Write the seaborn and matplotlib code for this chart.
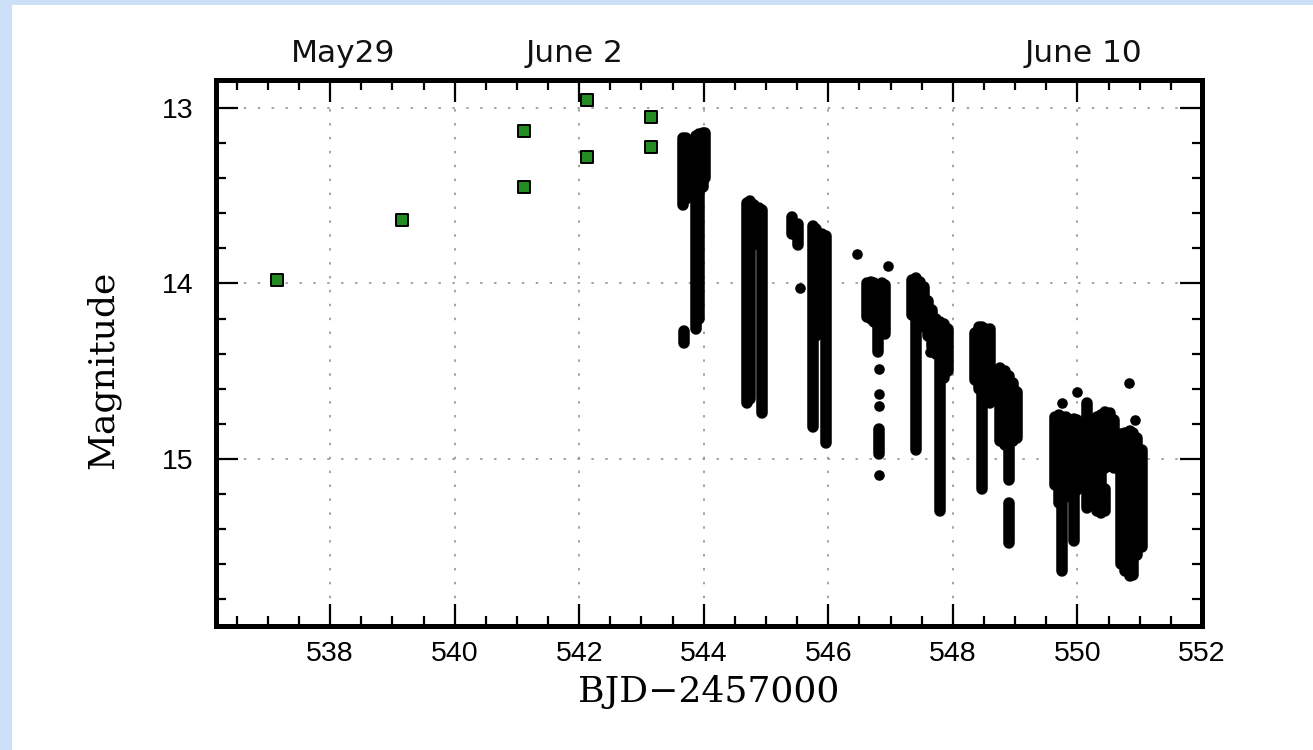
import matplotlib
matplotlib.use("Agg")
import matplotlib.pyplot as plt
import matplotlib.transforms as mtransforms
from matplotlib.patches import Rectangle
from matplotlib.ticker import MultipleLocator
import pandas as pd
import seaborn as sns

# ---- comparison-star style photometry (green squares) ----
early_bjd = [537.15, 539.15, 541.12, 541.12, 542.12, 542.12, 543.15, 543.15]
early_mag = [13.98, 13.638, 13.131, 13.448, 12.954, 13.281, 13.053, 13.22]

# ---- time-resolved photometry: dense nightly runs as (BJD, brightest, faintest) ----
run_bjd = [
    543.66, 543.72, 543.68, 543.88, 543.93, 543.98, 544.02,
    544.69, 544.75, 544.81, 544.88, 544.93,
    545.42, 545.52, 545.75, 545.81, 545.90, 545.96,
    546.62, 546.68, 546.74, 546.80, 546.86, 546.91, 546.81,
    547.35, 547.41, 547.47, 547.53, 547.60, 547.66, 547.73, 547.79, 547.85, 547.92,
    548.36, 548.42, 548.47, 548.53, 548.60, 548.76, 548.83, 548.90, 548.90, 548.97, 549.03,
    549.64, 549.70, 549.75, 549.82, 549.88, 549.94, 550.00, 550.15,
    550.31, 550.38, 550.45, 550.45, 550.52, 550.59, 550.70, 550.77, 550.84, 550.90, 550.96, 551.03,
]
run_top = [
    13.17, 13.17, 14.27, 13.16, 13.15, 13.14, 13.14,
    13.54, 13.53, 13.55, 13.57, 13.58,
    13.62, 13.66, 13.67, 13.69, 13.72, 13.73,
    14.00, 13.99, 14.00, 14.02, 14.00, 14.01, 14.83,
    13.98, 13.97, 13.99, 14.02, 14.10, 14.15, 14.20, 14.22, 14.23, 14.26,
    14.28, 14.25, 14.25, 14.26, 14.26, 14.48, 14.50, 14.53, 15.25, 14.57, 14.62,
    14.76, 14.75, 14.76, 14.76, 14.78, 14.77, 14.78, 14.68,
    14.76, 14.75, 14.73, 15.17, 14.74, 14.78, 14.86, 14.85, 14.84, 14.85, 14.88, 14.95,
]
run_bottom = [
    13.55, 13.52, 14.34, 14.26, 14.20, 13.45, 13.40,
    14.68, 14.66, 13.75, 13.78, 14.74,
    13.72, 13.78, 14.82, 14.30, 14.10, 14.91,
    14.19, 14.20, 14.22, 14.39, 14.27, 14.29, 14.97,
    14.18, 14.95, 14.20, 14.25, 14.30, 14.36, 14.40, 15.30, 14.54, 14.50,
    14.55, 14.60, 15.17, 14.62, 14.68, 14.90, 14.92, 15.12, 15.48, 14.90, 14.88,
    15.15, 15.25, 15.64, 15.22, 15.20, 15.47, 15.18, 15.28,
    15.30, 15.31, 15.05, 15.30, 15.04, 15.05, 15.60, 15.64, 15.67, 15.66, 15.55, 15.50,
]

# ---- isolated single measurements ----
single_bjd = [545.54, 546.46, 546.96, 546.81, 546.81, 546.81, 546.81, 547.63,
              549.75, 549.99, 550.83, 550.92]
single_mag = [14.027, 13.83, 13.90, 14.49, 14.63, 14.70, 15.09, 14.39,
              14.68, 14.62, 14.567, 14.78]

# ---- axis annotation ----
x_ticks = [538, 540, 542, 544, 546, 548, 550, 552]
y_ticks = [13, 14, 15]
date_labels = ["May29", "June 2", "June 10"]
date_pos = [538.21, 541.93, 550.09]

sns.set_theme(style="white")
plt.rcParams.update({
    "font.family": ["Liberation Sans", "DejaVu Sans"],
    "text.color": "black",
    "axes.labelcolor": "black",
    "xtick.color": "black",
    "ytick.color": "black",
    "xtick.bottom": True,
    "xtick.top": True,
    "ytick.left": True,
    "ytick.right": True,
    "xtick.direction": "in",
    "ytick.direction": "in",
    "xtick.major.size": 15.5,
    "ytick.major.size": 15.5,
    "xtick.minor.size": 7,
    "ytick.minor.size": 7,
    "xtick.major.width": 1.6,
    "ytick.major.width": 1.6,
    "xtick.minor.width": 1.6,
    "ytick.minor.width": 1.6,
})

fig = plt.figure(figsize=(13.13, 7.5), dpi=100)
fig.patch.set_facecolor("#cde0f7")
fig.patches.append(Rectangle((12 / 1313, 0), 1 - 12 / 1313, 1 - 5 / 750,
                             transform=fig.transFigure, facecolor="white",
                             edgecolor="none", zorder=-10))

ax = fig.add_axes([0.16413, 0.166, 0.75133, 0.7273])
ax.set_zorder(1)
ax.set_facecolor("white")

# dense nightly runs drawn as stacked dots (round-capped strokes)
ax.vlines(run_bjd, run_top, run_bottom, colors="black", linewidth=8.3,
          capstyle="round", zorder=3)

single_df = pd.DataFrame({"bjd": single_bjd, "mag": single_mag})
sns.scatterplot(data=single_df, x="bjd", y="mag", ax=ax, color="black",
                s=58, linewidth=0, zorder=4, legend=False)

early_df = pd.DataFrame({"bjd": early_bjd, "mag": early_mag})
sns.scatterplot(data=early_df, x="bjd", y="mag", ax=ax, marker="s",
                color="#228b22", edgecolor="black", linewidth=1.4,
                s=82, zorder=5, legend=False)

ax.set_xlim(536.16, 552)
ax.set_ylim(15.95, 12.84)

ax.set_xticks(x_ticks)
ax.set_yticks(y_ticks)
ax.xaxis.set_minor_locator(MultipleLocator(0.5))
ax.yaxis.set_minor_locator(MultipleLocator(0.2))
ax.set_xticklabels([str(t) for t in x_ticks])
ax.set_yticklabels([str(t) for t in y_ticks])

ax.grid(True, which="major", color="#8c8c8c", linewidth=1.1,
        linestyle=(0, (1.6, 7.5)))
ax.set_axisbelow(True)

for sp in ax.spines.values():
    sp.set_visible(True)
    sp.set_color("black")
    sp.set_linewidth(3.6)

ax.tick_params(which="both", direction="in", top=True, right=True,
               bottom=True, left=True, labeltop=False, labelright=False,
               color="black", width=1.6)
ax.tick_params(which="major", length=15.5, labelsize=20.5, labelcolor="black")
ax.tick_params(axis="x", which="major", pad=11)
ax.tick_params(axis="y", which="major", pad=15.5)
ax.tick_params(which="minor", length=7)

ax.set_xlabel("BJD\u22122457000", family="DejaVu Serif", fontsize=26,
              color="black")
ax.set_ylabel("Magnitude", family="DejaVu Serif", fontsize=26, color="black")
ax.xaxis.set_label_coords(0.5, -0.09)
ax.yaxis.set_label_coords(-0.097, 0.468)

trans = mtransforms.blended_transform_factory(ax.transData, ax.transAxes)
for lab, pos in zip(date_labels, date_pos):
    ax.text(pos, 1.033, lab, transform=trans, ha="center", va="baseline",
            fontsize=22.5, family="DejaVu Sans", color="#111111")

fig.savefig("out.png", dpi=100)
